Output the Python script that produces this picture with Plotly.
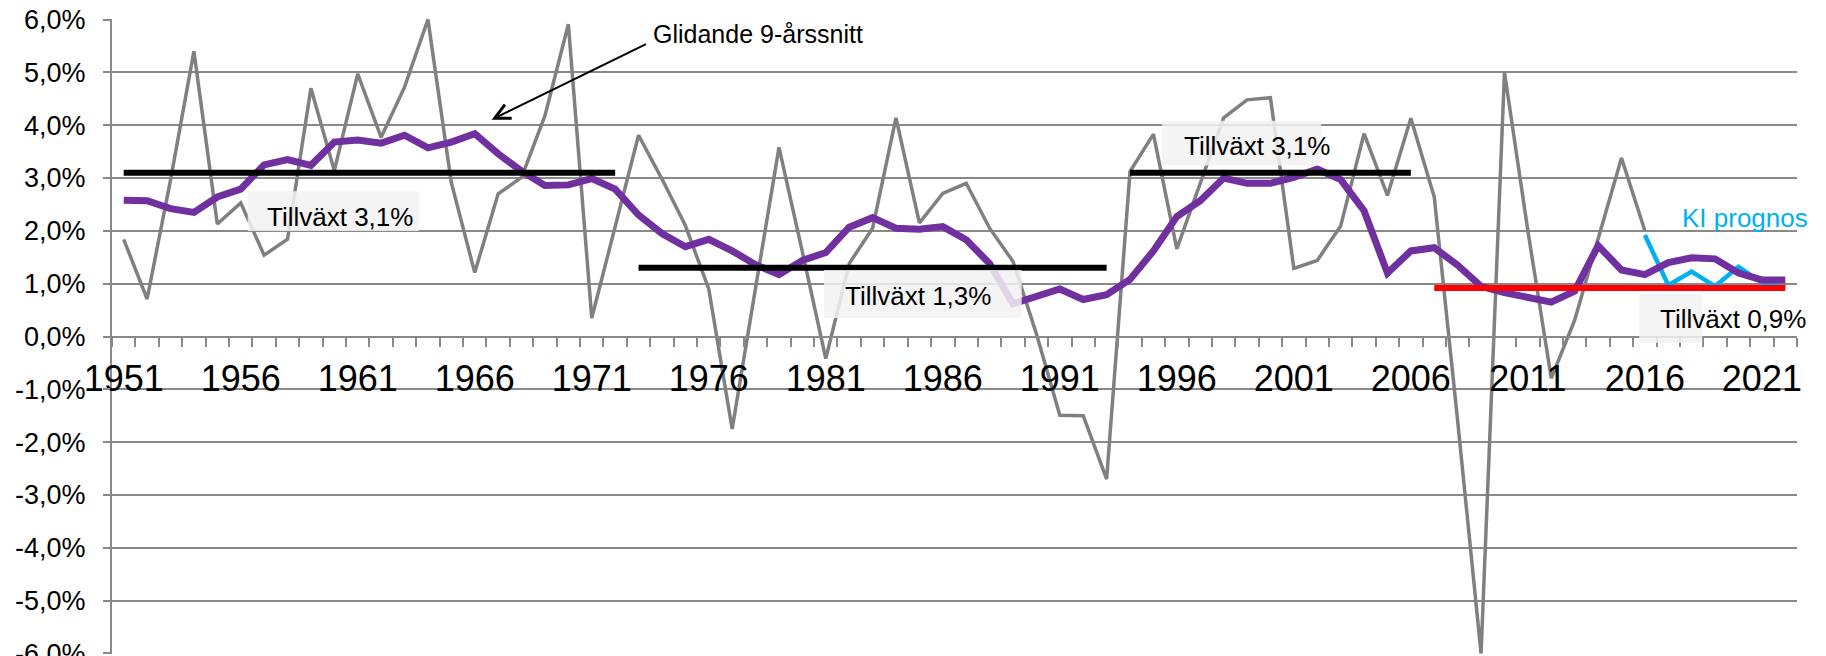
import plotly.graph_objects as go

# ---------------- data ----------------
years = list(range(1951, 2023))
hist_years = list(range(1951, 2017))
growth = [1.84, 0.71, 2.96, 5.40, 2.13, 2.53, 1.54, 1.84, 4.70, 3.14,
          4.97, 3.77, 4.72, 6.00, 2.91, 1.21, 2.70, 3.01, 4.18, 5.91,
          0.35, 2.05, 3.81, 2.98, 2.10, 0.90, -1.75, 0.92, 3.58, 1.60,
          -0.42, 1.38, 2.05, 4.14, 2.15, 2.71, 2.90, 2.05, 1.42, 0.05,
          -1.49, -1.50, -2.70, 3.12, 3.83, 1.66, 2.90, 4.14, 4.48, 4.52,
          1.29, 1.44, 2.09, 3.84, 2.67, 4.13, 2.64, -1.60, -6.00, 5.00,
          2.00, -0.79, 0.31, 1.82, 3.38, 2.00]
avg9 = [2.58, 2.57, 2.42, 2.35, 2.64, 2.79, 3.25, 3.35, 3.24, 3.68,
        3.72, 3.66, 3.81, 3.57, 3.68, 3.84, 3.46, 3.13, 2.86, 2.87,
        2.99, 2.79, 2.30, 1.95, 1.70, 1.84, 1.62, 1.36, 1.17, 1.44,
        1.59, 2.07, 2.25, 2.05, 2.03, 2.08, 1.83, 1.38, 0.62, 0.77,
        0.90, 0.70, 0.79, 1.08, 1.62, 2.27, 2.57, 3.00, 2.90, 2.90,
        3.01, 3.17, 2.97, 2.38, 1.20, 1.62, 1.68, 1.35, 0.95, 0.83,
        0.74, 0.65, 0.86, 1.72, 1.26, 1.17, 1.40, 1.49, 1.47, 1.20,
        1.07, 1.07]
fc_years = list(range(2016, 2023))
forecast = [1.92, 0.97, 1.23, 0.95, 1.32, 1.02, 0.92]

period_start = [1951, 1973, 1994, 2007]
period_end = [1972, 1993, 2006, 2022]
period_avg = [3.1, 1.3, 3.1, 0.92]
period_color = ["black", "black", "black", "#ff0000"]
period_label = ["Tillväxt 3,1%", "Tillväxt 1,3%", "Tillväxt 3,1%", "Tillväxt 0,9%"]
# label boxes: (x0, x1, y0, y1) and text anchor (x, y) in data units
box_x0 = [1956.30, 1980.92, 1995.37, 2015.76]
box_x1 = [1963.61, 1989.37, 2002.17, 2018.45]
box_y0 = [1.995, 0.352, 3.236, -0.120]
box_y1 = [2.751, 1.259, 4.083, 0.805]
lab_x = [1957.05, 1981.72, 1996.20, 2016.55]
lab_y = [2.26, 0.76, 3.61, 0.33]

label_years = list(range(1951, 2022, 5))
y_ticks = list(range(-6, 7))
y_ticktext = [f"{v},0%" for v in y_ticks]

GRID = "#898989"
FONT = "Liberation Sans, Arial, sans-serif"

fig = go.Figure()
fig.add_trace(go.Scatter(x=hist_years, y=growth, mode="lines",
                         line=dict(color="#808080", width=3.5), showlegend=False))
fig.add_trace(go.Scatter(x=fc_years, y=forecast, mode="lines",
                         line=dict(color="#00b0f0", width=4.5), showlegend=False))
fig.add_trace(go.Scatter(x=years, y=avg9, mode="lines",
                         line=dict(color="#7030a0", width=7), showlegend=False))
for s, e, v, c in zip(period_start, period_end, period_avg, period_color):
    fig.add_trace(go.Scatter(x=[s, e], y=[v, v], mode="lines",
                             line=dict(color=c, width=6), showlegend=False))

shapes = []
annotations = []
for x0, x1, y0, y1, lx, ly, t in zip(box_x0, box_x1, box_y0, box_y1, lab_x, lab_y, period_label):
    shapes.append(dict(type="rect", xref="x", yref="y", x0=x0, x1=x1, y0=y0, y1=y1,
                       fillcolor="rgba(242,242,242,0.85)", line=dict(width=0), layer="above"))
    annotations.append(dict(x=lx, y=ly, xref="x", yref="y", text=t, showarrow=False,
                            xanchor="left", yanchor="middle",
                            font=dict(size=26, color="black", family=FONT)))

annotations.append(dict(x=2017.5, y=2.25, xref="x", yref="y", text="KI prognos",
                        showarrow=False, xanchor="left", yanchor="middle",
                        font=dict(size=26, color="#00b0f0", family=FONT)))
annotations.append(dict(x=1973.55, y=5.72, xref="x", yref="y", text="Glidande 9-årssnitt",
                        showarrow=False, xanchor="left", yanchor="middle",
                        font=dict(size=25, color="black", family=FONT)))
annotations.append(dict(x=1966.72, y=4.105, xref="x", yref="y", ax=1973.38, ay=5.55,
                        axref="x", ayref="y", text="", showarrow=True,
                        arrowhead=5, arrowsize=1.5, arrowwidth=2, arrowcolor="black"))

# the page body has an 8 px margin, so the figure is 8 px smaller and margins shifted
fig.update_layout(
    width=1818, height=648,
    margin=dict(l=104, r=29, t=11, b=2, autoexpand=False),
    paper_bgcolor="white", plot_bgcolor="white",
    font=dict(family=FONT, color="black"),
    shapes=shapes, annotations=annotations,
    xaxis=dict(range=[1950.5, 2022.5], anchor="free", position=0.5,
               tickvals=label_years, ticktext=[str(y) for y in label_years],
               ticks="", showgrid=False, zeroline=False,
               showline=True, linecolor=GRID, linewidth=2,
               tickfont=dict(size=36, color="black"),
               ticklabelstandoff=10,
               minor=dict(tick0=1950.5, dtick=1, ticks="outside", ticklen=9,
                          tickcolor=GRID, tickwidth=1.5, showgrid=False)),
    yaxis=dict(range=[-6.01, 6.01], tickvals=y_ticks, ticktext=y_ticktext,
               showgrid=True, gridcolor=GRID, gridwidth=2, zeroline=False,
               showline=True, linecolor=GRID, linewidth=2,
               ticks="outside", ticklen=7, tickcolor=GRID, tickwidth=2,
               ticklabelstandoff=12, ticklabeloverflow="allow",
               tickfont=dict(size=27, color="black")),
)

fig.write_html("out.html")
